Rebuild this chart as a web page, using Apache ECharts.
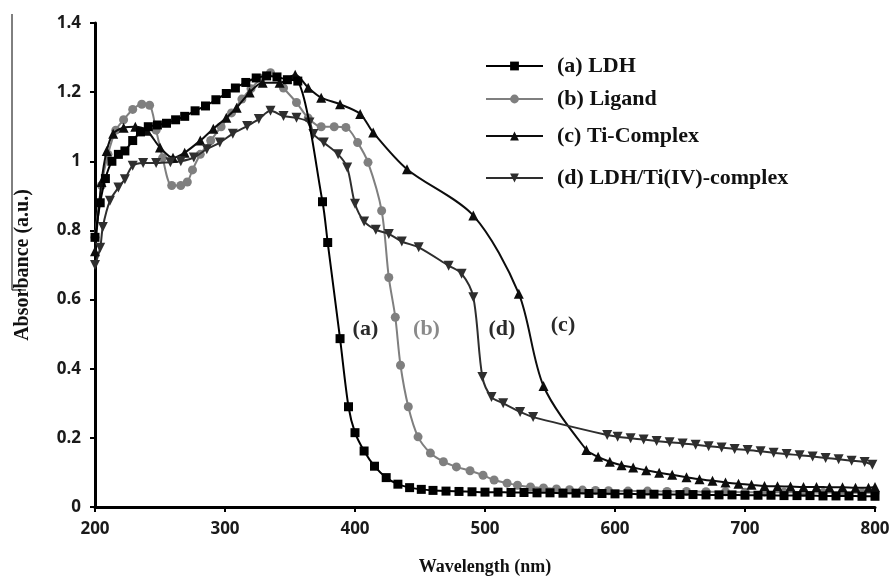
<!DOCTYPE html>
<html>
<head>
<meta charset="utf-8">
<script src="https://cdn.jsdelivr.net/npm/echarts@6/dist/echarts.min.js"></script>
<style>
  html, body { margin: 0; padding: 0; background: #fff; }
  #chart { width: 896px; height: 579px; }
</style>
</head>
<body>
<div id="chart"></div>
<script>
// UV-Vis absorption spectra: wavelength (nm) vs absorbance (a.u.)
const seriesNames = ['(a) LDH', '(b) Ligand', '(c) Ti-Complex', '(d) LDH/Ti(IV)-complex'];
const curveLabels = ['(a)', '(b)', '(c)', '(d)'];
const xTicks = [200, 300, 400, 500, 600, 700, 800];
const yTicks = [0, 0.2, 0.4, 0.6, 0.8, 1, 1.2, 1.4];

const ldh = [
  [200, 0.78], [204, 0.88], [208, 0.95], [213, 1.0], [218, 1.02], [223, 1.03], [229, 1.06],
  [235, 1.085], [241, 1.10], [248, 1.105], [255, 1.11], [262, 1.12], [269, 1.13], [277, 1.146],
  [285, 1.16], [293, 1.178], [301, 1.196], [308, 1.212], [316, 1.228], [324, 1.241], [332, 1.247],
  [340, 1.244], [348, 1.236], [356, 1.232], [375, 0.883], [379, 0.765], [388.5, 0.487],
  [395, 0.29], [400, 0.215], [407, 0.162], [415, 0.118], [424, 0.085], [433, 0.066], [442, 0.056],
  [451, 0.051], [460, 0.048], [470, 0.046], [480, 0.045], [490, 0.044], [500, 0.043], [510, 0.043],
  [520, 0.042], [530, 0.042], [540, 0.041], [550, 0.041], [560, 0.040], [570, 0.040], [580, 0.039],
  [590, 0.039], [600, 0.038], [610, 0.038], [620, 0.037], [630, 0.037], [640, 0.036], [650, 0.036],
  [660, 0.036], [670, 0.035], [680, 0.035], [690, 0.035], [700, 0.034], [710, 0.034], [720, 0.034],
  [730, 0.033], [740, 0.033], [750, 0.033], [760, 0.032], [770, 0.032], [780, 0.032], [790, 0.031],
  [800, 0.031]
];

const ligand = [
  [200, 0.78], [205, 0.93], [210, 1.02], [216, 1.09], [222, 1.12], [229, 1.15], [236, 1.165],
  [242, 1.162], [247, 1.09], [252, 1.01], [259, 0.93], [266, 0.93], [271, 0.94], [275, 0.975],
  [281, 1.02], [289, 1.06], [297, 1.10], [305, 1.14], [313, 1.18], [320, 1.21], [328, 1.24],
  [335, 1.256], [345, 1.212], [355, 1.17], [364, 1.125], [374, 1.10], [384, 1.10], [393, 1.098],
  [402, 1.054], [410, 0.997], [420.5, 0.857], [426, 0.664], [431, 0.549], [435, 0.41], [441, 0.29],
  [448.5, 0.203], [458, 0.156], [468, 0.131], [478, 0.116], [488.5, 0.105], [498.5, 0.092],
  [507, 0.078], [517, 0.069], [525, 0.063], [535, 0.058], [545, 0.055], [555, 0.052], [565, 0.050],
  [575, 0.049], [585, 0.048], [595, 0.047], [610, 0.046], [625, 0.046], [640, 0.045], [655, 0.045],
  [670, 0.044], [685, 0.044], [700, 0.043], [715, 0.043], [730, 0.043], [745, 0.042], [760, 0.042],
  [775, 0.042], [790, 0.041], [800, 0.041]
];

const tiComplex = [
  [200, 0.74], [205, 0.94], [209, 1.03], [214, 1.08], [222, 1.097], [231, 1.10], [240, 1.088],
  [250, 1.04], [260, 1.01], [269, 1.025], [281, 1.06], [291, 1.094], [301, 1.126], [309, 1.155],
  [319, 1.199], [329, 1.227], [342, 1.227], [354, 1.25], [364, 1.213], [374, 1.184], [388.5, 1.165],
  [404, 1.137], [414, 1.083], [440, 0.977], [491, 0.843], [526, 0.617], [545, 0.35], [578, 0.165],
  [587, 0.145], [596, 0.131], [605, 0.121], [614, 0.114], [624, 0.106], [634, 0.099], [644, 0.093],
  [655, 0.086], [665, 0.080], [675, 0.076], [685, 0.071], [695, 0.067], [705, 0.064], [715, 0.061],
  [725, 0.060], [735, 0.059], [745, 0.058], [755, 0.058], [765, 0.057], [775, 0.057], [785, 0.056],
  [795, 0.056], [800, 0.058]
];

const ldhTi = [
  [200, 0.70], [204, 0.75], [206, 0.81], [211.5, 0.886], [218, 0.924], [223, 0.948], [229, 0.987],
  [237, 0.995], [247, 0.995], [258, 0.997], [266, 1.0], [276, 1.011], [286, 1.035], [296, 1.054],
  [306, 1.08], [317, 1.102], [326, 1.122], [335, 1.146], [345, 1.131], [355, 1.126], [365, 1.112],
  [368, 1.079], [376, 1.054], [387, 1.02], [394, 0.982], [400, 0.877], [407, 0.826], [416, 0.802],
  [426, 0.79], [436, 0.768], [449, 0.751], [472, 0.698], [482, 0.675], [491, 0.607], [498, 0.376],
  [505, 0.318], [514, 0.30], [527, 0.275], [537, 0.26], [594, 0.208], [602, 0.203], [612, 0.199],
  [622, 0.195], [632, 0.191], [642, 0.187], [652, 0.184], [662, 0.180], [672, 0.176], [682, 0.172],
  [692, 0.168], [702, 0.165], [712, 0.161], [722, 0.157], [732, 0.153], [742, 0.150], [752, 0.146],
  [762, 0.142], [772, 0.138], [782, 0.134], [792, 0.130], [798, 0.122]
];

const curveData = [ldh, ligand, tiComplex, ldhTi];

const serif = '"Liberation Serif", "Times New Roman", serif';
const sans = '"Open Sans", "Noto Sans", sans-serif';

const colors = ['#000000', '#7f7f7f', '#0d0d0d', '#2e2e2e'];
const symbols = ['rect', 'circle', 'triangle', 'path://M0,0 L10,0 L5,9 Z'];
const symbolSizes = [9, 9, 10, 10];
const labelAnchors = [[408, 0.515], [455, 0.515], [560, 0.525], [513, 0.515]];
const legendTops = [50, 83, 120, 162];

const chart = echarts.init(document.getElementById('chart'), null, { renderer: 'canvas' });

const series = curveData.map((d, i) => ({
  name: seriesNames[i],
  type: 'line',
  data: d,
  smooth: 0.3,
  symbol: symbols[i],
  symbolSize: symbolSizes[i],
  z: i === 0 ? 4 : (i === 1 ? 2 : 3),
  lineStyle: { color: colors[i], width: 2 },
  itemStyle: { color: colors[i] },
  emphasis: { disabled: true },
  animation: false,
  markPoint: {
    symbol: 'rect',
    symbolSize: 1,
    itemStyle: { color: 'rgba(0,0,0,0)' },
    label: {
      show: true,
      position: 'inside',
      formatter: curveLabels[i],
      fontFamily: serif,
      fontWeight: 'bold',
      fontSize: 22,
      color: i === 1 ? '#8a8a8a' : '#2a2a2a'
    },
    data: [{ coord: labelAnchors[i] }]
  }
}));

const legends = seriesNames.map((n, i) => ({
  data: [n],
  left: 480,
  top: legendTops[i],
  orient: 'vertical',
  itemWidth: 57,
  itemHeight: 11,
  selectedMode: false,
  textStyle: {
    fontFamily: serif,
    fontWeight: 'bold',
    fontSize: 22,
    color: '#111',
    padding: [0, 0, 0, 9]
  }
}));

chart.setOption({
  backgroundColor: '#ffffff',
  animation: false,
  legend: legends,
  grid: { left: 95, right: 21, top: 23, bottom: 72, containLabel: false, outerBoundsMode: 'none' },
  xAxis: {
    type: 'value',
    min: xTicks[0],
    max: xTicks[xTicks.length - 1],
    interval: 100,
    name: 'Wavelength (nm)',
    nameLocation: 'middle',
    nameGap: 51,
    nameTextStyle: { fontFamily: serif, fontWeight: 'bold', fontSize: 18, color: '#111' },
    axisLine: { lineStyle: { color: '#000', width: 3 } },
    axisTick: { show: true, length: 5, lineStyle: { color: '#000', width: 2 } },
    axisLabel: { fontFamily: sans, fontWeight: 'bold', fontSize: 17, color: '#1a1a1a', margin: 14 },
    splitLine: { show: false }
  },
  yAxis: {
    type: 'value',
    min: yTicks[0],
    max: yTicks[yTicks.length - 1],
    interval: 0.2,
    name: 'Absorbance (a.u.)',
    nameLocation: 'middle',
    nameGap: 62,
    nameRotate: 90,
    nameTextStyle: { fontFamily: serif, fontWeight: 'bold', fontSize: 20, color: '#111' },
    axisLine: { show: true, lineStyle: { color: '#000', width: 3 } },
    axisTick: { show: true, length: 5, lineStyle: { color: '#000', width: 2 } },
    axisLabel: {
      fontFamily: sans, fontWeight: 'bold', fontSize: 17, color: '#1a1a1a', margin: 14,
      formatter: v => String(Math.round(v * 10) / 10)
    },
    splitLine: { show: false }
  },
  graphic: [
    {
      type: 'polyline',
      shape: { points: [[12, 14], [12, 290], [26, 290]] },
      style: { stroke: '#000', lineWidth: 1, fill: null },
      silent: true
    }
  ],
  series: series
});
</script>
</body>
</html>
